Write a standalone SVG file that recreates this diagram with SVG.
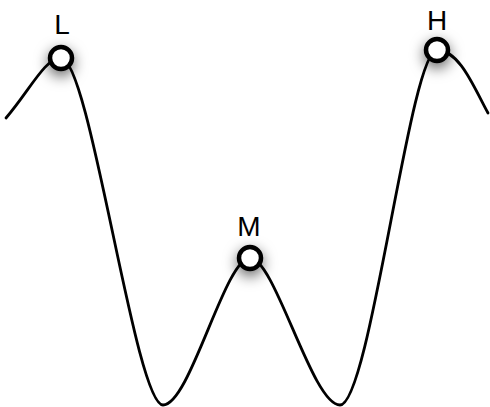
<svg xmlns="http://www.w3.org/2000/svg" width="490" height="407" viewBox="0 0 490 407">
<style>
.curve{fill:none;stroke:#000;stroke-width:2.8;stroke-linecap:round}
.pt{fill:#fff;stroke:#000;stroke-width:4.5;filter:url(#sh)}
.lbl{font-family:"Liberation Sans",Arial,sans-serif;font-size:28px;fill:#000;text-anchor:middle}
</style>
<defs>
<filter id="sh" x="-200%" y="-200%" width="500%" height="500%">
<feDropShadow dx="0" dy="5" stdDeviation="7" flood-color="#000" flood-opacity="0.6"/>
</filter>
</defs>
<g id="connectors">
<path class="curve" d="M6,118 C30,90 45,58 61,58 C90,58 135,405 163,405 C190,405 225,258 250,258 C275,258 312,405 340,405 C370,405 410,50 437,50 C460,50 475,90 488,113"/>
</g>
<g id="L"><circle class="pt" cx="61" cy="58" r="11"/><text class="lbl" x="62" y="34">L</text></g>
<g id="M"><circle class="pt" cx="250" cy="258" r="11"/><text class="lbl" x="249" y="236">M</text></g>
<g id="H"><circle class="pt" cx="437" cy="50" r="11"/><text class="lbl" x="437" y="30">H</text></g>
</svg>
